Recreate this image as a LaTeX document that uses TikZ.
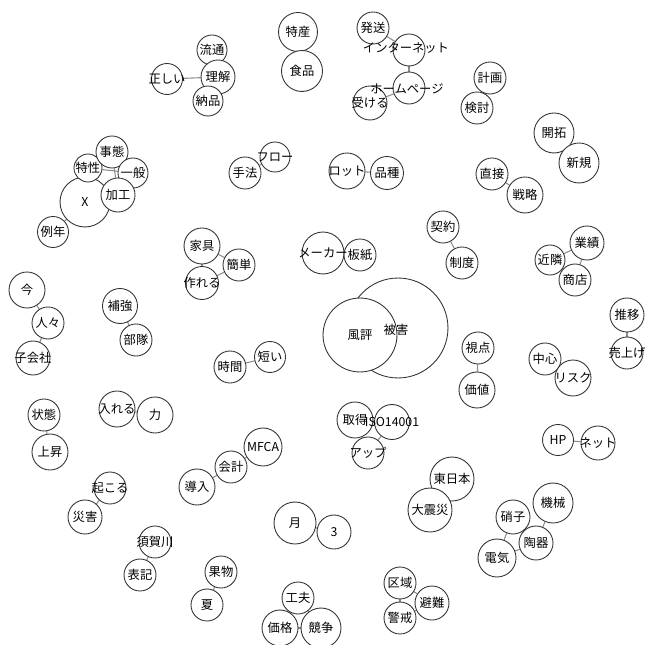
\documentclass[tikz,border=0pt]{standalone}
\usepackage{fontspec}
\newfontfamily\jp{Noto Sans CJK JP}
\usetikzlibrary{backgrounds}
\tikzset{
    % Words
    word/.style = {circle, draw=black!80, line width=0.5pt, fill=white, inner sep=0pt},
    rad/.style  = {word, minimum size=#1*0.04cm},
    tag/.style  = {font=\jp\fontsize{7}{8}\selectfont, inner sep=0pt},
    % Co-occurrence
    link/.style = {draw=black!45, line width=0.6pt}
}

\begin{document}
\begin{tikzpicture}[x=0.02cm, y=-0.02cm]
    \useasboundingbox (0,0) rectangle (646,645);

    \node[rad=15.5] (tadashii) at (167,79) {};
    \node[rad=15] (ryutsu) at (212,50) {};
    \node[rad=17] (rikai) at (218,77) {};
    \node[rad=15] (nohin) at (208,101) {};
    \node[rad=19.5] (tokusan) at (298,32) {};
    \node[rad=20.5] (shokuhin) at (302,71) {};
    \node[rad=16] (hasso) at (373,28) {};
    \node[rad=16] (inet) at (409,50) {};
    \node[rad=16] (homepage) at (409,88) {};
    \node[rad=17] (ukeru) at (370,103) {};
    \node[rad=16] (keikaku) at (490,78) {};
    \node[rad=16] (kento) at (477,108) {};
    \node[rad=20] (kaitaku) at (554,133) {};
    \node[rad=20] (shinki) at (579,163) {};
    \node[rad=16] (chokusetsu) at (492,174) {};
    \node[rad=18] (senryaku) at (525,195) {};
    \node[rad=15] (flow) at (275,157) {};
    \node[rad=16] (shuho) at (245,173) {};
    \node[rad=18] (lot) at (347,171) {};
    \node[rad=16.5] (hinshu) at (387,173) {};

    \node[rad=25] (x) at (85,202) {};
    \node[rad=14] (tokusei) at (88,168) {};
    \node[rad=16] (jitai) at (112,152) {};
    \node[rad=15] (ippan) at (133,173) {};
    \node[rad=17] (kako) at (118,195) {};
    \node[rad=15.5] (reinen) at (53,232) {};
    \node[rad=18] (kagu) at (202,246) {};
    \node[rad=16.5] (tsukureru) at (202,283) {};
    \node[rad=16] (kantan) at (239,265) {};
    \node[rad=21] (maker) at (323,253) {};
    \node[rad=16] (itagami) at (360,255) {};
    \node[rad=16] (keiyaku) at (443,227) {};
    \node[rad=16] (seido) at (462,263) {};
    \node[rad=15] (kinrin) at (550,260) {};
    \node[rad=17] (gyoseki) at (587,243) {};
    \node[rad=16] (shoten) at (575,280) {};

    \node[rad=18] (ima) at (27,290) {};
    \node[rad=16] (hitobito) at (48,323) {};
    \node[rad=17] (kogaisha) at (33,358) {};
    \node[rad=17.5] (hokyo) at (120,306) {};
    \node[rad=16] (butai) at (136,340) {};
    \node[rad=50] (higai) at (398,328) {};
    \node[rad=37] (fuhyo) at (360,335) {};
    \node[rad=16] (jikan) at (230,367) {};
    \node[rad=15.5] (mijikai) at (270,357) {};
    \node[rad=16] (shiten) at (478,348) {};
    \node[rad=18] (kachi) at (477,390) {};
    \node[rad=16] (chushin) at (545,359) {};
    \node[rad=18] (risk) at (573,378) {};
    \node[rad=17] (suii) at (627,315) {};
    \node[rad=16] (uriage) at (627,353) {};

    \node[rad=16] (jotai) at (44,415) {};
    \node[rad=18] (joshou) at (50,452) {};
    \node[rad=18] (ireru) at (117,409) {};
    \node[rad=18] (chikara) at (155,415) {};
    \node[rad=18] (shutoku) at (355,420) {};
    \node[rad=17.5] (iso) at (392,422) {};
    \node[rad=16] (up) at (368,453) {};
    \node[rad=15.5] (hp) at (558,440) {};
    \node[rad=17] (net) at (598,443) {};
    \node[rad=16] (okoru) at (110,488) {};
    \node[rad=17] (saigai) at (85,517) {};
    \node[rad=18] (donyu) at (197,487) {};
    \node[rad=16] (kaikei) at (231,467) {};
    \node[rad=19] (mfca) at (263,447) {};
    \node[rad=22] (higashi) at (452,479) {};
    \node[rad=22] (daishinsai) at (430,510) {};
    \node[rad=20] (kikai) at (553,503) {};
    \node[rad=17] (shoshi) at (513,517) {};
    \node[rad=17] (toki) at (536,543) {};
    \node[rad=19] (denki) at (497,558) {};

    \node[rad=16] (sukagawa) at (155,542) {};
    \node[rad=16] (hyoki) at (140,575) {};
    \node[rad=16] (kudamono) at (221,572) {};
    \node[rad=16] (natsu) at (207,605) {};
    \node[rad=21] (tsuki) at (295,523) {};
    \node[rad=17] (three) at (334,532) {};
    \node[rad=16] (kufu) at (298,598) {};
    \node[rad=18] (kakaku) at (280,628) {};
    \node[rad=20] (kyoso) at (321,628) {};
    \node[rad=16] (kuiki) at (400,583) {};
    \node[rad=17] (hinan) at (432,603) {};
    \node[rad=16] (keikai) at (400,618) {};

    % Edges behind the circles
    \begin{scope}[on background layer]
        \draw[link] (tadashii) -- (rikai);
        \draw[link] (ryutsu) -- (rikai);
        \draw[link] (nohin) -- (rikai);
        \draw[link] (tokusan) -- (shokuhin);
        \draw[link] (hasso) -- (inet);
        \draw[link] (inet) -- (homepage);
        \draw[link] (homepage) -- (ukeru);
        \draw[link] (keikaku) -- (kento);
        \draw[link] (kaitaku) -- (shinki);
        \draw[link] (chokusetsu) -- (senryaku);
        \draw[link] (flow) -- (shuho);
        \draw[link] (lot) -- (hinshu);
        \draw[link] (x) -- (reinen);
        \draw[link] (x) -- (kako);
        \draw[link] (tokusei) -- (ippan);
        \draw[link] (jitai) -- (kako);
        \draw[link] (tokusei) -- (jitai);
        \draw[link] (ippan) -- (kako);
        \draw[link] (kagu) -- (kantan);
        \draw[link] (tsukureru) -- (kantan);
        \draw[link] (kagu) -- (tsukureru);
        \draw[link] (maker) -- (itagami);
        \draw[link] (keiyaku) -- (seido);
        \draw[link] (kinrin) -- (gyoseki);
        \draw[link] (gyoseki) -- (shoten);
        \draw[link] (kinrin) -- (shoten);
        \draw[link] (ima) -- (hitobito);
        \draw[link] (hitobito) -- (kogaisha);
        \draw[link] (hokyo) -- (butai);
        \draw[link] (jikan) -- (mijikai);
        \draw[link] (shiten) -- (kachi);
        \draw[link] (chushin) -- (risk);
        \draw[link] (suii) -- (uriage);
        \draw[link] (jotai) -- (joshou);
        \draw[link] (ireru) -- (chikara);
        \draw[link] (shutoku) -- (iso);
        \draw[link] (shutoku) -- (up);
        \draw[link] (iso) -- (up);
        \draw[link] (hp) -- (net);
        \draw[link] (okoru) -- (saigai);
        \draw[link] (kaikei) -- (mfca);
        \draw[link] (donyu) -- (kaikei);
        \draw[link] (higashi) -- (daishinsai);
        \draw[link] (shoshi) -- (denki);
        \draw[link] (shoshi) -- (toki);
        \draw[link] (toki) -- (kikai);
        \draw[link] (denki) -- (toki);
        \draw[link] (sukagawa) -- (hyoki);
        \draw[link] (kudamono) -- (natsu);
        \draw[link] (tsuki) -- (three);
        \draw[link] (kufu) -- (kakaku);
        \draw[link] (kufu) -- (kyoso);
        \draw[link] (kakaku) -- (kyoso);
        \draw[link] (kuiki) -- (hinan);
        \draw[link] (kuiki) -- (keikai);
        \draw[link] (keikai) -- (hinan);
    \end{scope}

    % Words on top
    \node[tag] (tadashii-t) at (tadashii) {正しい};
    \node[tag] (ryutsu-t) at (ryutsu) {流通};
    \node[tag] (rikai-t) at (rikai) {理解};
    \node[tag] (nohin-t) at (nohin) {納品};
    \node[tag] (tokusan-t) at (tokusan) {特産};
    \node[tag] (shokuhin-t) at (shokuhin) {食品};
    \node[tag] (hasso-t) at (hasso) {発送};
    \node[tag] (inet-t) at (406,48) {インターネット};
    \node[tag] (homepage-t) at (407,89) {ホームページ};
    \node[tag] (ukeru-t) at (ukeru) {受ける};
    \node[tag] (keikaku-t) at (keikaku) {計画};
    \node[tag] (kento-t) at (kento) {検討};
    \node[tag] (kaitaku-t) at (kaitaku) {開拓};
    \node[tag] (shinki-t) at (shinki) {新規};
    \node[tag] (chokusetsu-t) at (chokusetsu) {直接};
    \node[tag] (senryaku-t) at (senryaku) {戦略};
    \node[tag] (flow-t) at (flow) {フロー};
    \node[tag] (shuho-t) at (shuho) {手法};
    \node[tag] (lot-t) at (lot) {ロット};
    \node[tag] (hinshu-t) at (hinshu) {品種};
    \node[tag] (x-t) at (x) {X};
    \node[tag] (tokusei-t) at (tokusei) {特性};
    \node[tag] (jitai-t) at (jitai) {事態};
    \node[tag] (ippan-t) at (ippan) {一般};
    \node[tag] (kako-t) at (kako) {加工};
    \node[tag] (reinen-t) at (reinen) {例年};
    \node[tag] (kagu-t) at (kagu) {家具};
    \node[tag] (tsukureru-t) at (tsukureru) {作れる};
    \node[tag] (kantan-t) at (kantan) {簡単};
    \node[tag] (maker-t) at (maker) {メーカー};
    \node[tag] (itagami-t) at (itagami) {板紙};
    \node[tag] (keiyaku-t) at (keiyaku) {契約};
    \node[tag] (seido-t) at (seido) {制度};
    \node[tag] (kinrin-t) at (kinrin) {近隣};
    \node[tag] (gyoseki-t) at (gyoseki) {業績};
    \node[tag] (shoten-t) at (shoten) {商店};
    \node[tag] (ima-t) at (ima) {今};
    \node[tag] (hitobito-t) at (hitobito) {人々};
    \node[tag] (kogaisha-t) at (kogaisha) {子会社};
    \node[tag] (hokyo-t) at (hokyo) {補強};
    \node[tag] (butai-t) at (butai) {部隊};
    \node[tag] (higai-t) at (396,330) {被害};
    \node[tag] (fuhyo-t) at (fuhyo) {風評};
    \node[tag] (jikan-t) at (jikan) {時間};
    \node[tag] (mijikai-t) at (mijikai) {短い};
    \node[tag] (shiten-t) at (shiten) {視点};
    \node[tag] (kachi-t) at (kachi) {価値};
    \node[tag] (chushin-t) at (chushin) {中心};
    \node[tag] (risk-t) at (risk) {リスク};
    \node[tag] (suii-t) at (suii) {推移};
    \node[tag] (uriage-t) at (uriage) {売上げ};
    \node[tag] (jotai-t) at (jotai) {状態};
    \node[tag] (joshou-t) at (joshou) {上昇};
    \node[tag] (ireru-t) at (ireru) {入れる};
    \node[tag] (chikara-t) at (chikara) {力};
    \node[tag] (shutoku-t) at (shutoku) {取得};
    \node[tag] (iso-t) at (iso) {ISO14001};
    \node[tag] (up-t) at (up) {アップ};
    \node[tag] (hp-t) at (hp) {HP};
    \node[tag] (net-t) at (net) {ネット};
    \node[tag] (okoru-t) at (okoru) {起こる};
    \node[tag] (saigai-t) at (saigai) {災害};
    \node[tag] (donyu-t) at (donyu) {導入};
    \node[tag] (kaikei-t) at (kaikei) {会計};
    \node[tag] (mfca-t) at (mfca) {MFCA};
    \node[tag] (higashi-t) at (higashi) {東日本};
    \node[tag] (daishinsai-t) at (daishinsai) {大震災};
    \node[tag] (kikai-t) at (kikai) {機械};
    \node[tag] (shoshi-t) at (shoshi) {硝子};
    \node[tag] (toki-t) at (toki) {陶器};
    \node[tag] (denki-t) at (denki) {電気};
    \node[tag] (sukagawa-t) at (sukagawa) {須賀川};
    \node[tag] (hyoki-t) at (hyoki) {表記};
    \node[tag] (kudamono-t) at (kudamono) {果物};
    \node[tag] (natsu-t) at (natsu) {夏};
    \node[tag] (tsuki-t) at (tsuki) {月};
    \node[tag] (three-t) at (three) {3};
    \node[tag] (kufu-t) at (kufu) {工夫};
    \node[tag] (kakaku-t) at (kakaku) {価格};
    \node[tag] (kyoso-t) at (kyoso) {競争};
    \node[tag] (kuiki-t) at (kuiki) {区域};
    \node[tag] (hinan-t) at (hinan) {避難};
    \node[tag] (keikai-t) at (keikai) {警戒};
\end{tikzpicture}
\end{document}
